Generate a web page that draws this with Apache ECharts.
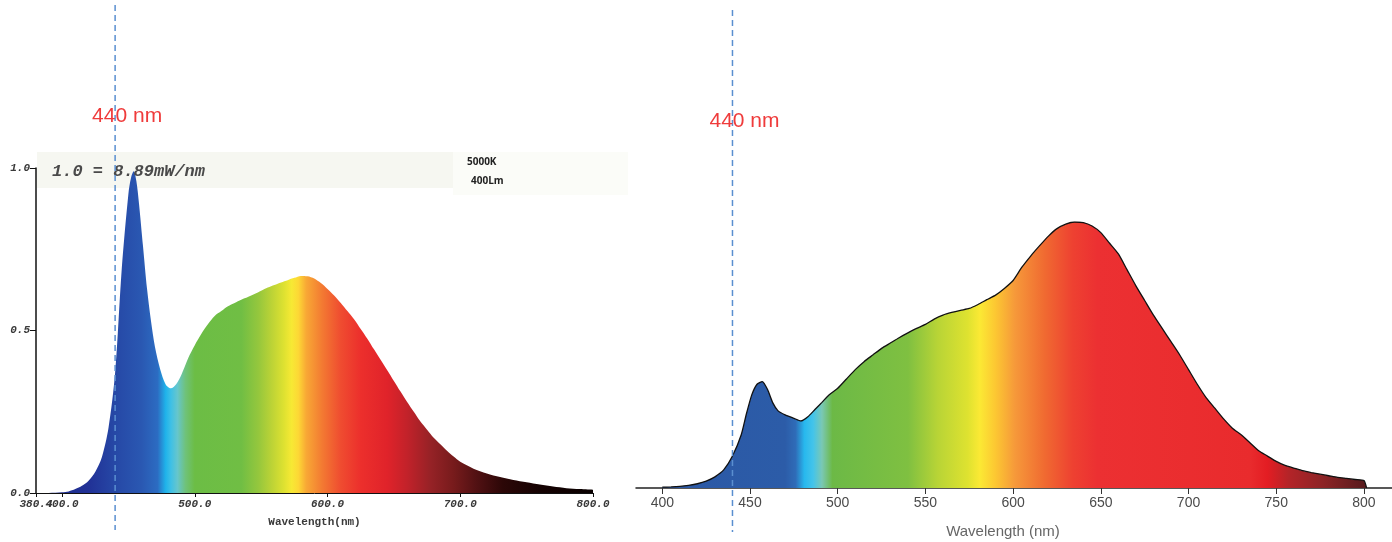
<!DOCTYPE html>
<html>
<head>
<meta charset="utf-8">
<script src="https://cdn.jsdelivr.net/npm/echarts@6/dist/echarts.min.js"></script>
<style>
  html, body { margin: 0; padding: 0; background: #ffffff; }
  #chart { width: 1392px; height: 542px; }
</style>
</head>
<body>
<div id="chart"></div>
<script>
// ---- Data -----------------------------------------------------------------

// 5000K / 400 lm LED, relative spectral power (1.0 = 8.89 mW/nm)
const ledWavelengths = [
  380.4, 390, 400, 405, 410, 415, 420, 425, 430, 435, 440, 445, 450, 452, 454, 456, 458, 461, 464, 467,
  470, 474, 478, 482, 486, 490, 495, 500, 505, 510, 515, 520, 525, 530, 535, 540, 545, 550, 555, 560,
  565, 570, 575, 580, 585, 590, 595, 600, 605, 610, 615, 620, 625, 630, 635, 640, 645, 650, 655, 660,
  665, 670, 675, 680, 685, 690, 695, 700, 710, 720, 730, 740, 750, 760, 770, 780, 790, 800
];
const ledValues = [
  0.0, 0.0, 0.002, 0.005, 0.012, 0.022, 0.038, 0.065, 0.11, 0.2, 0.37, 0.69, 0.92, 0.97, 0.99, 0.96, 0.89, 0.76, 0.63, 0.53,
  0.45, 0.38, 0.335, 0.322, 0.335, 0.365, 0.415, 0.455, 0.49, 0.52, 0.545, 0.56, 0.575, 0.585, 0.595, 0.603, 0.612, 0.622, 0.632, 0.64,
  0.648, 0.655, 0.662, 0.668, 0.667, 0.66, 0.646, 0.628, 0.608, 0.585, 0.56, 0.535, 0.505, 0.475, 0.442, 0.41, 0.378, 0.345, 0.312, 0.28,
  0.25, 0.22, 0.195, 0.17, 0.15, 0.13, 0.112, 0.096, 0.075, 0.06, 0.049, 0.04, 0.033, 0.026, 0.02, 0.015, 0.012, 0.01
];
// axis ticks; the first two labels sit on top of each other, so they go on separate label layers
const ledTicks = [380.4, 400, 500, 600, 700, 800];
const ledLabelsMain = [380.4, 500, 600, 700, 800];
const ledLabelsExtra = [400];

// Full-spectrum source, normalised to its 635 nm peak
const fullWavelengths = [
  400, 405, 410, 415, 420, 425, 430, 435, 440, 445, 448, 451, 454, 457, 460, 463, 466, 470, 475, 479,
  483, 487, 491, 495, 500, 505, 510, 515, 520, 525, 530, 535, 540, 545, 550, 555, 560, 565, 570, 575,
  580, 585, 590, 595, 600, 605, 610, 615, 620, 625, 630, 635, 640, 645, 650, 655, 660, 665, 670, 675,
  680, 685, 690, 695, 700, 705, 710, 715, 720, 725, 730, 735, 740, 745, 750, 755, 760, 765, 770, 775,
  780, 785, 790, 795, 800, 801.5
];
const fullValues = [
  0.003, 0.004, 0.006, 0.01, 0.016, 0.026, 0.042, 0.068, 0.12, 0.2, 0.28, 0.35, 0.39, 0.4, 0.37, 0.32, 0.29, 0.275, 0.262, 0.252,
  0.268, 0.295, 0.322, 0.35, 0.375, 0.41, 0.445, 0.475, 0.5, 0.525, 0.545, 0.565, 0.583, 0.6, 0.615, 0.635, 0.65, 0.66, 0.668, 0.675,
  0.69, 0.708, 0.725, 0.75, 0.78, 0.83, 0.872, 0.91, 0.946, 0.975, 0.992, 1.0, 0.998, 0.985, 0.96, 0.92, 0.88, 0.82, 0.76, 0.705,
  0.65, 0.6, 0.55, 0.5, 0.445, 0.39, 0.34, 0.3, 0.26, 0.225, 0.2, 0.17, 0.14, 0.12, 0.1, 0.085, 0.075, 0.065, 0.058, 0.052,
  0.046, 0.04, 0.036, 0.032, 0.028, 0.0
];
const fullTicks = [400, 450, 500, 550, 600, 650, 700, 750, 800];

const markerWavelength = 440;
const markerLabel = '440 nm';
const ledNote = '1.0 = 8.89mW/nm';
const ledCct = '5000K';
const ledFlux = '400Lm';
const axisTitleLed = 'Wavelength(nm)';
const axisTitleFull = 'Wavelength (nm)';

// ---- Styles ---------------------------------------------------------------

// spectral fill colours, keyed by wavelength (nm)
const ledPalette = [
  [380, '#1c2a86'], [420, '#213196'], [440, '#2648a6'], [460, '#2a58b2'], [472, '#2c6cc2'],
  [478, '#1fb2ea'], [482, '#3ec0e6'], [487, '#66c6cc'], [493, '#6fc27a'], [500, '#6cbd45'],
  [535, '#70be44'], [548, '#95c73d'], [558, '#bcd336'], [567, '#dde131'], [573, '#f7e934'],
  [578, '#fdd835'], [584, '#f8a835'], [596, '#f37a32'], [610, '#ef4c30'], [625, '#ec2f2c'],
  [645, '#e0232a'], [660, '#c2222a'], [678, '#952226'], [695, '#771b1c'], [712, '#521113'],
  [732, '#2c0707'], [760, '#150202'], [800, '#0a0000']
];
const fullPalette = [
  [400, '#2b58a5'], [470, '#2c5ca8'], [476, '#2f6cb8'], [481, '#27b8ee'], [486, '#44c4ea'],
  [491, '#7ac8b4'], [497, '#6cb946'], [540, '#7fc041'], [557, '#b8d436'], [574, '#dee230'],
  [581, '#fbe934'], [590, '#fcc732'], [601, '#f6993a'], [618, '#f06a31'], [634, '#ee4131'],
  [648, '#ec3032'], [735, '#e92b2d'], [745, '#e31d23'], [757, '#b42428'], [777, '#8c2426'],
  [801.5, '#561a1c']
];

const monoFont = '"Liberation Mono", "DejaVu Sans Mono", monospace';
const sansFont = '"Liberation Sans", Arial, sans-serif';

const ledLabelStyle = {
  margin: 6, hideOverlap: false,
  formatter: v => Number(v).toFixed(1),
  fontFamily: monoFont, fontSize: 11, fontStyle: 'italic', fontWeight: 'bold', color: '#3a3a3a'
};

function spectrumGradient(palette, lo, hi) {
  return new echarts.graphic.LinearGradient(0, 0, 1, 0,
    palette.map(([nm, c]) => ({
      offset: Math.min(1, Math.max(0, (nm - lo) / (hi - lo))),
      color: c
    })));
}

const ledData = ledWavelengths.map((w, i) => [w, ledValues[i]]);
const fullData = fullWavelengths.map((w, i) => [w, fullValues[i]]);

// ---- Chart ----------------------------------------------------------------

const chart = echarts.init(document.getElementById('chart'), null, { renderer: 'canvas' });

chart.setOption({
  animation: false,
  backgroundColor: '#ffffff',
  grid: [
    { left: 36, right: 799, top: 168, bottom: 49 },
    { left: 636, right: 0, top: 222, bottom: 54 }
  ],
  xAxis: [
    {
      gridIndex: 0, type: 'value', min: 380.4, max: 800,
      axisLine: { show: true, onZero: false, lineStyle: { color: '#111', width: 1 } },
      axisTick: { show: true, customValues: ledTicks, length: 4, lineStyle: { color: '#111' } },
      axisLabel: Object.assign({ customValues: ledLabelsMain, showMinLabel: true, showMaxLabel: true }, ledLabelStyle),
      splitLine: { show: false },
      name: axisTitleLed, nameLocation: 'middle', nameGap: 24,
      nameTextStyle: { fontFamily: monoFont, fontSize: 11, fontWeight: 'bold', color: '#3a3a3a' }
    },
    {
      gridIndex: 1, type: 'value', min: 385, max: 816,
      axisLine: { show: true, onZero: false, lineStyle: { color: '#222', width: 1.5 } },
      axisTick: { show: true, customValues: fullTicks, length: 6, lineStyle: { color: '#333' } },
      axisLabel: {
        customValues: fullTicks, margin: 8,
        fontFamily: sansFont, fontSize: 14, color: '#4a4a4a'
      },
      splitLine: { show: false },
      name: axisTitleFull, nameLocation: 'middle', nameGap: 36,
      nameTextStyle: { fontFamily: sansFont, fontSize: 15, color: '#666', padding: [0, 22, 0, 0] }
    },
    {
      // second label layer on the LED axis (the 400.0 label overlapping 380.4)
      gridIndex: 0, type: 'value', min: 380.4, max: 800, position: 'bottom',
      axisLine: { show: false }, axisTick: { show: false }, splitLine: { show: false },
      axisLabel: Object.assign({ customValues: ledLabelsExtra, showMinLabel: false, showMaxLabel: false }, ledLabelStyle)
    }
  ],
  yAxis: [
    {
      gridIndex: 0, type: 'value', min: 0, max: 1, interval: 0.5,
      axisLine: { show: true, lineStyle: { color: '#111', width: 1.5 } },
      axisTick: { show: true, length: 6, lineStyle: { color: '#111' } },
      axisLabel: {
        margin: 6, verticalAlign: 'middle', padding: [0, 0, 4, 0],
        formatter: v => Number(v).toFixed(1),
        fontFamily: monoFont, fontSize: 11, fontStyle: 'italic', fontWeight: 'bold', color: '#3a3a3a'
      },
      splitLine: { show: false }
    },
    {
      gridIndex: 1, type: 'value', min: 0, max: 1, show: false
    }
  ],
  series: [
    {
      type: 'line', xAxisIndex: 0, yAxisIndex: 0, data: ledData,
      smooth: 0.3, showSymbol: false, silent: true, z: 3,
      lineStyle: { width: 0 },
      areaStyle: {
        opacity: 1,
        color: spectrumGradient(ledPalette, ledWavelengths[0], ledWavelengths[ledWavelengths.length - 1])
      }
    },
    {
      type: 'line', xAxisIndex: 1, yAxisIndex: 1, data: fullData,
      smooth: 0.2, showSymbol: false, silent: true, z: 3,
      lineStyle: { width: 1.3, color: '#111' },
      areaStyle: {
        opacity: 1,
        color: spectrumGradient(fullPalette, fullWavelengths[0], fullWavelengths[fullWavelengths.length - 1])
      }
    }
  ]
});

// 440 nm marker lines and annotations
const ledMarkX = chart.convertToPixel({ xAxisIndex: 0 }, markerWavelength);
const fullMarkX = chart.convertToPixel({ xAxisIndex: 1 }, markerWavelength);
const ledGridLeft = chart.convertToPixel({ xAxisIndex: 0 }, ledWavelengths[0]);

const dashStyle = { stroke: '#5a8fd0', lineWidth: 1.5, lineDash: [6, 4] };

chart.setOption({
  graphic: [
    { type: 'rect', z: 0, shape: { x: ledGridLeft + 1, y: 152, width: 416, height: 36 }, style: { fill: '#f6f7f1' } },
    { type: 'rect', z: 0, shape: { x: ledGridLeft + 417, y: 152, width: 175, height: 43 }, style: { fill: '#fbfcf8' } },
    {
      type: 'text', z: 20, x: ledGridLeft + 16, y: 172,
      style: { text: ledNote, font: 'italic bold 17px ' + monoFont, fill: '#4a4a4a', verticalAlign: 'middle' }
    },
    {
      type: 'text', z: 20, x: 467, y: 162,
      style: { text: ledCct, font: 'bold 10px "Open Sans", sans-serif', fill: '#222', verticalAlign: 'middle' }
    },
    {
      type: 'text', z: 20, x: 471, y: 181,
      style: { text: ledFlux, font: 'bold 10px "Open Sans", sans-serif', fill: '#222', verticalAlign: 'middle' }
    },
    { type: 'line', z: 30, shape: { x1: ledMarkX, y1: 5, x2: ledMarkX, y2: 530 }, style: dashStyle },
    { type: 'line', z: 30, shape: { x1: fullMarkX, y1: 10, x2: fullMarkX, y2: 532 }, style: dashStyle },
    {
      type: 'text', z: 31, x: ledMarkX - 23, y: 116,
      style: { text: markerLabel, font: '21px ' + sansFont, fill: '#ef3b3b', verticalAlign: 'middle' }
    },
    {
      type: 'text', z: 31, x: fullMarkX - 23, y: 121,
      style: { text: markerLabel, font: '21px ' + sansFont, fill: '#ef3b3b', verticalAlign: 'middle' }
    }
  ]
});
</script>
</body>
</html>
